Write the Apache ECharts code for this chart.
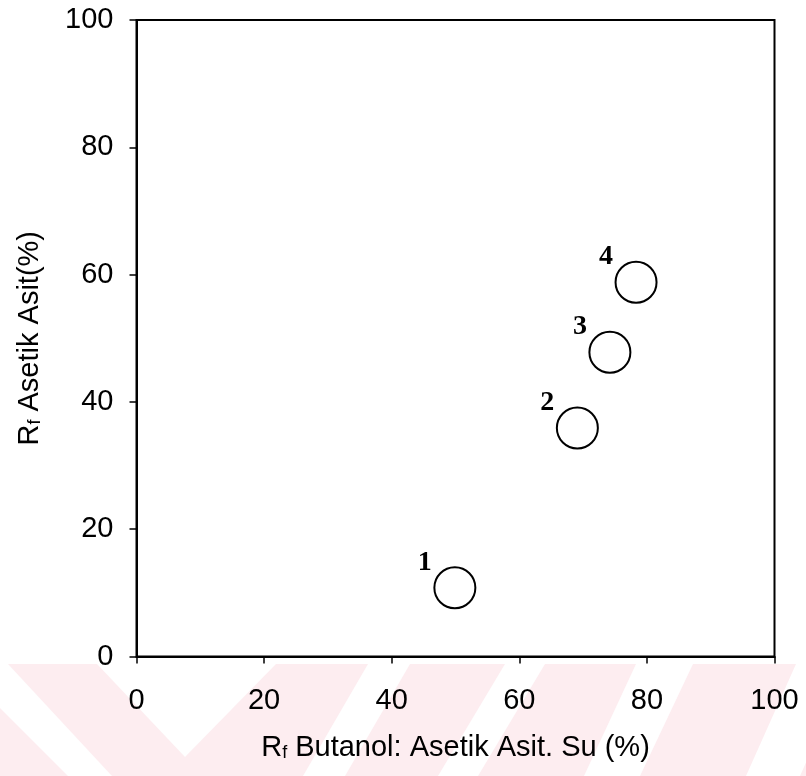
<!DOCTYPE html>
<html>
<head>
<meta charset="utf-8">
<script src="https://cdn.jsdelivr.net/npm/echarts/dist/echarts.min.js"></script>
<style>
html, body { margin: 0; padding: 0; background: #fff; }
#main1 { width: 806px; height: 776px; }
</style>
</head>
<body>
<div id="main1"></div>
<script>
// Rf values
var pointNames = ['1', '2', '3', '4'];
var butanolRf = [49.9, 69.1, 74.2, 78.3];
var aceticRf = [10.8, 35.9, 47.8, 58.8];
var axisMin = 0;
var axisMax = 100;
var axisStep = 20;

var fontSans = 'Liberation Sans, Arial, sans-serif';

var points = pointNames.map(function (n, i) {
    return { name: n, value: [butanolRf[i], aceticRf[i]] };
});

// faint pink stripes at the bottom of the page
var pink = '#fdedf0';
function poly(pts, color) {
    return { type: 'polygon', z: -10, silent: true, shape: { points: pts }, style: { fill: color } };
}
var watermark = [
    { type: 'rect', z: -11, silent: true, shape: { x: 0, y: 664, width: 806, height: 112 }, style: { fill: pink } },
    poly([[0, 664], [8, 664], [112, 776], [68, 776], [0, 708]], '#fff'),
    poly([[97, 664], [185, 757], [276, 664]], '#fff'),
    poly([[368, 664], [410, 664], [345, 776], [303, 776]], '#fff'),
    poly([[505, 664], [545, 664], [478, 776], [438, 776]], '#fff'),
    poly([[636, 664], [693, 664], [640, 776], [584, 776]], '#fff'),
    poly([[796, 664], [850, 664], [800, 776], [746, 776]], '#fff')
];

var myChart = echarts.init(document.getElementById('main1'));
var option = {
    backgroundColor: 'transparent',
    animation: false,
    graphic: watermark,
    grid: {
        left: 136.5,
        right: 31.5,
        top: 20,
        bottom: 119.5,
        show: true,
        borderColor: '#000',
        borderWidth: 2,
        backgroundColor: 'transparent'
    },
    xAxis: {
        type: 'value',
        min: axisMin,
        max: axisMax,
        interval: axisStep,
        name: '{n|R}{s|f}{n| Butanol: Asetik Asit. Su (%)}',
        nameLocation: 'middle',
        nameGap: 76,
        nameTextStyle: {
            rich: {
                n: { fontFamily: fontSans, fontSize: 29, color: '#000', lineHeight: 30 },
                s: { fontFamily: fontSans, fontSize: 18, color: '#000', verticalAlign: 'bottom', lineHeight: 18 }
            }
        },
        axisLine: { lineStyle: { color: '#000', width: 2 } },
        axisTick: { length: 7, lineStyle: { color: '#000', width: 1.5 } },
        axisLabel: { margin: 30, fontFamily: fontSans, fontSize: 29, color: '#000' },
        splitLine: { show: false }
    },
    yAxis: {
        type: 'value',
        min: axisMin,
        max: axisMax,
        interval: axisStep,
        name: '{n|R}{s|f}{n| Asetik Asit(%)}',
        nameLocation: 'middle',
        nameGap: 92,
        nameTextStyle: {
            rich: {
                n: { fontFamily: fontSans, fontSize: 29, color: '#000', lineHeight: 30 },
                s: { fontFamily: fontSans, fontSize: 18, color: '#000', verticalAlign: 'bottom', lineHeight: 18 }
            }
        },
        axisLine: { lineStyle: { color: '#000', width: 2 } },
        axisTick: { length: 7, lineStyle: { color: '#000', width: 1.5 } },
        axisLabel: { margin: 23, fontFamily: fontSans, fontSize: 29, color: '#000' },
        splitLine: { show: false }
    },
    series: [{
        type: 'scatter',
        symbol: 'circle',
        symbolSize: 41,
        data: points,
        itemStyle: {
            color: '#fff',
            borderColor: '#000',
            borderWidth: 2,
            opacity: 1
        },
        label: {
            show: true,
            position: 'inside',
            offset: [-30, -25],
            formatter: '{b}',
            fontFamily: 'Liberation Serif, Times New Roman, serif',
            fontWeight: 'bold',
            fontSize: 28,
            color: '#000',
            textBorderWidth: 0
        },
        emphasis: { disabled: true }
    }]
};
myChart.setOption(option);
</script>
</body>
</html>
